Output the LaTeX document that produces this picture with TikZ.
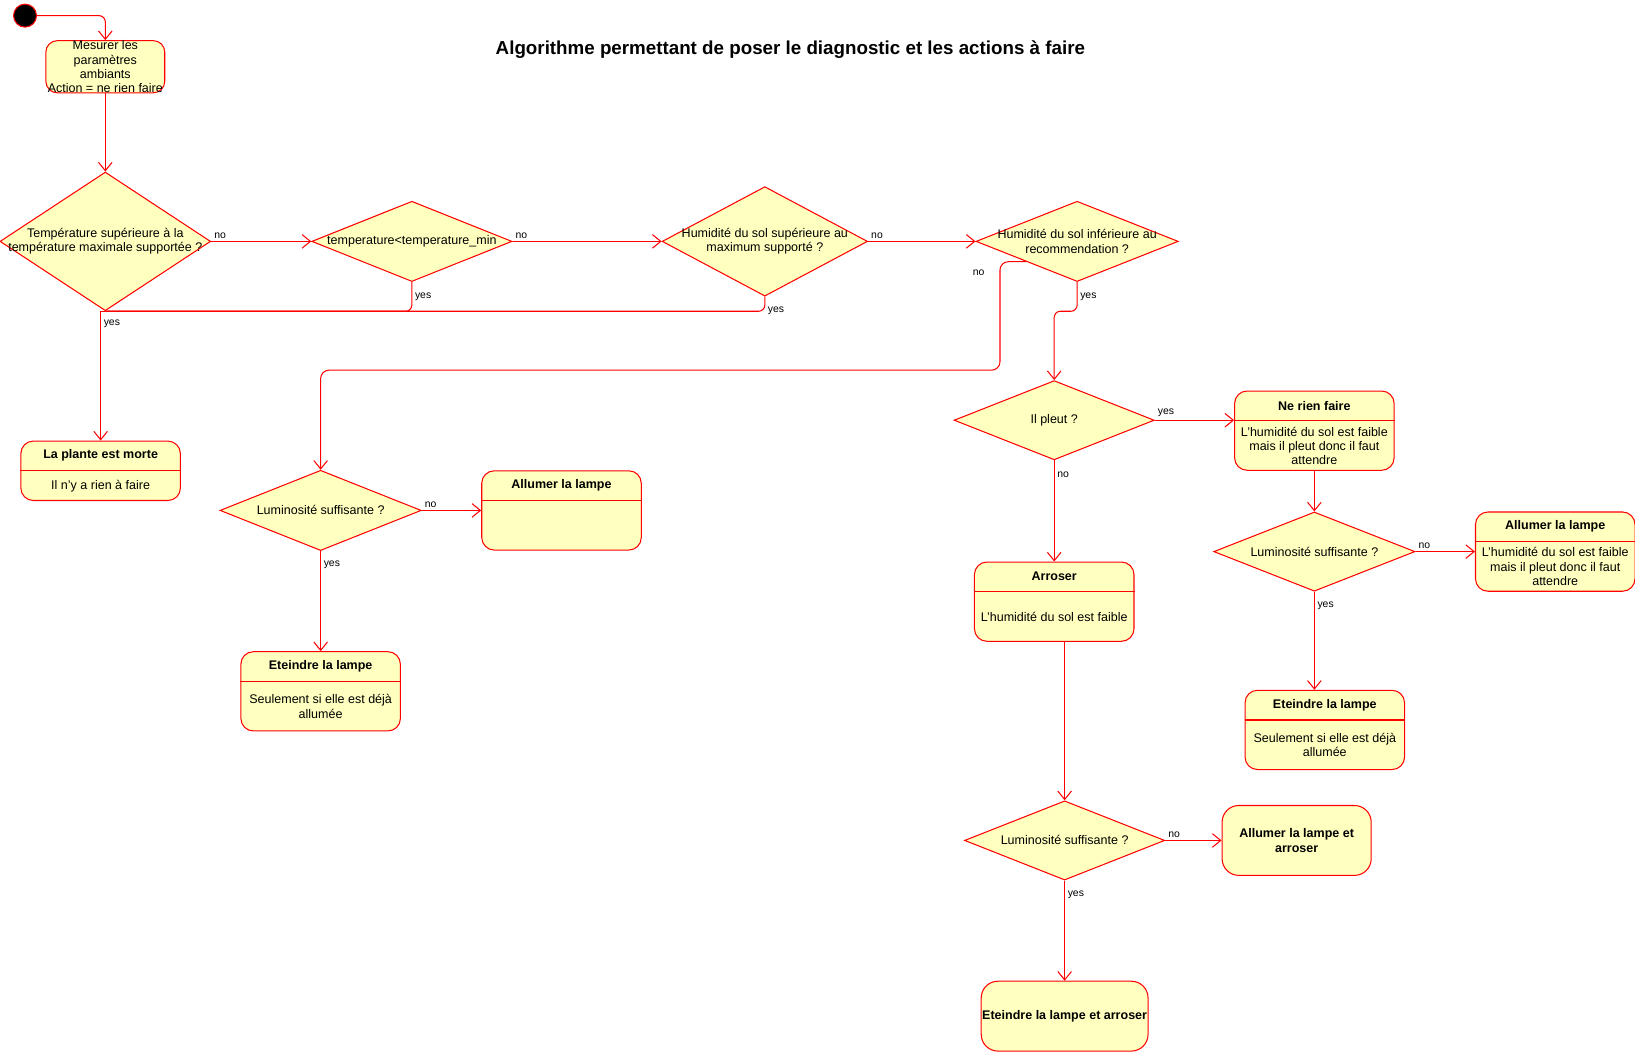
\documentclass[tikz,border=0pt]{standalone}
\usepackage{fontspec}
\setmainfont{Liberation Sans}
\usepackage{tikz}
\usetikzlibrary{positioning,calc,shapes.geometric,arrows.meta}
\usepackage{xcolor}
\definecolor{stfill}{RGB}{255,255,192}
\definecolor{stline}{RGB}{255,0,0}
\tikzstyle{lbl} = [
    % draw=red,
    font=\fontsize{10}{12}\selectfont,
    inner sep=2.5pt
]

\begin{document}
\begin{tikzpicture}[x=1pt, y=-1pt, line width=1pt,
        dtext/.style={
            draw=none, font=\fontsize{12}{13.7}\selectfont,
            align=center, inner sep=0pt
        },
        headtext/.style={dtext, font=\fontsize{12}{13.7}\selectfont\bfseries},
        bodytext/.style={dtext},
        initial/.style={
            circle, draw=stline, fill=black,
            minimum size=22pt, inner sep=0pt
        },
        decision/.style n args={3}{
            diamond, draw=stline, fill=stfill,
            minimum width=#1, minimum height=#2,
            inner sep=0pt,
            label={[dtext]center:#3}
        },
        actbox/.style 2 args={
            rectangle, rounded corners=16pt,
            draw=stline, fill=stfill,
            minimum width=#1, minimum height=#2,
            font=\fontsize{12}{13.7}\selectfont,
            align=center, inner sep=0pt
        },
        statebox/.style n args={3}{
            rectangle, rounded corners=12pt,
            draw=stline, fill=stfill,
            minimum width=153pt, minimum height=#1,
            inner sep=0pt,
            append after command={
                \pgfextra{\let\TikZlastnode\tikzlastnode}
                node[headtext] (head-\TikZlastnode) at ([yshift=-14.5pt]\TikZlastnode.north) {#2}
                node[bodytext] (body-\TikZlastnode) at ($(\TikZlastnode.south)!0.5!([yshift=-29pt]\TikZlastnode.north)$) {#3}
            }
        },
        flow/.style={draw=stline, -{Straight Barb[length=8pt, width=13pt]}},
        line/.style={draw=stline}
    ]
        \useasboundingbox (0,0) rectangle (1568,1008);

        \node[font=\fontsize{18}{21}\selectfont\bfseries] (title) at (758,48)
            {Algorithme permettant de poser le diagnostic et les actions à faire};

        \node[initial] (start) at (24,15) {};
        \node[actbox={114pt}{50pt}, rounded corners=11pt] (mesure) at (101,64)
            {Mesurer les\\paramètres\\ambiants\\Action = ne rien faire};

        % les quatre tests du haut
        \node[decision={202pt}{133pt}{Température supérieure à la\\température maximale supportée ?}] (d1) [below = 75pt of mesure] {};
        \node[decision={192pt}{77pt}{temperature<temperature\_min}] (d2) [right = 96pt of d1] {};
        \node[decision={197pt}{105pt}{Humidité du sol supérieure au\\maximum supporté ?}] (d3) [right = 143pt of d2] {};
        \node[decision={194pt}{77pt}{Humidité du sol inférieure au\\recommendation ?}] (d4) [right = 103pt of d3] {};

        \node[statebox={57pt}{La plante est morte}{Il n'y a rien à faire}] (plante) at (96.5,451.5) {};

        % branche humidite correcte
        \node[decision={193pt}{77pt}{Luminosité suffisante ?}] (d5) at (307.5,489.5) {};
        \node[statebox={76pt}{Allumer la lampe}{}] (lampeA) [right = 57pt of d5] {};
        \node[statebox={76pt}{Eteindre la lampe}{Seulement si elle est déjà\\allumée}] (eteinteA) [below = 96pt of d5] {};

        % branche sol sec
        \node[decision={192pt}{76pt}{Il pleut ?}] (d6) at (1011,403) {};
        \node[statebox={76pt}{Ne rien faire}{L'humidité du sol est faible\\mais il pleut donc il faut\\attendre}] (neRien) at (1260.5,413) {};
        \node[statebox={76pt}{Arroser}{L'humidité du sol est faible}] (arroser) [below = 97pt of d6] {};
        \node[decision={193pt}{76pt}{Luminosité suffisante ?}] (d7) [below = 39pt of neRien] {};
        \node[statebox={76pt}{Allumer la lampe}{L'humidité du sol est faible\\mais il pleut donc il faut\\attendre}] (lampeB) [right = 57pt of d7] {};
        \node[statebox={76pt}{Eteindre la lampe}{Seulement si elle est déjà\\allumée}] (eteinteB) at (1270.5,700) {};
        \node[decision={192pt}{76pt}{Luminosité suffisante ?}] (d8) at (1021,806) {};
        \node[actbox={143pt}{67pt}, font=\fontsize{12}{13.7}\selectfont\bfseries] (allumerArr) [right = 54pt of d8] {Allumer la lampe et\\arroser};
        \node[actbox={160pt}{67pt}, font=\fontsize{12}{13.7}\selectfont\bfseries] (eteinteArr) [below = 96pt of d8] {Eteindre la lampe et arroser};

        \foreach \b in {plante, lampeA, eteinteA, neRien, arroser, lampeB, eteinteB}
            \draw[line] ([yshift=-29pt]\b.north west) -- ([yshift=-29pt]\b.north east);

        \coordinate (bend) at (959,355);

        \draw[flow, rounded corners=6pt] (start.east) -| (mesure.north);
        \draw[flow] (mesure.south) -- (d1.north);
        \draw[flow] (d1.east) -- node[lbl, at start, above right] {no} (d2.west);
        \draw[flow] (d2.east) -- node[lbl, at start, above right] {no} (d3.west);
        \draw[flow] (d3.east) -- node[lbl, at start, above right] {no} (d4.west);

        \draw[flow] (d1.south) -| node[lbl, pos=0.55, right] {yes} (plante.north);
        \draw[line, rounded corners=6pt] (d2.south) |- node[lbl, pos=0.25, right] {yes} (d1.south);
        \draw[line, rounded corners=6pt] (d3.south) |- node[lbl, pos=0.5, right] {yes} (d1.south);

        \draw[flow, rounded corners=8pt] (d4.south west) -| node[lbl, pos=0.55, left=12pt] {no} (bend) -| (d5.north);
        \draw[flow, rounded corners=6pt] (d4.south) -- node[lbl, right] {yes} ++(0,28) -| (d6.north);

        \draw[flow] (d5.east) -- node[lbl, at start, above right] {no} (lampeA.west);
        \draw[flow] (d5.south) -- node[lbl, pos=0.14, right] {yes} (eteinteA.north);

        \draw[flow] (d6.east) -- node[lbl, at start, above right] {yes} (d6.east -| neRien.west);
        \draw[flow] (d6.south) -- node[lbl, pos=0.14, right] {no} (arroser.north);
        \draw[flow] (neRien.south) -- (d7.north);
        \draw[flow] (d7.east) -- node[lbl, at start, above right] {no} (lampeB.west);
        \draw[flow] (d7.south) -- node[lbl, pos=0.14, right] {yes} (d7.south |- eteinteB.north);

        \draw[flow] (d8.north |- arroser.south) -- (d8.north);
        \draw[flow] (d8.east) -- node[lbl, at start, above right] {no} (allumerArr.west);
        \draw[flow] (d8.south) -- node[lbl, pos=0.14, right] {yes} (eteinteArr.north);
\end{tikzpicture}
\end{document}
